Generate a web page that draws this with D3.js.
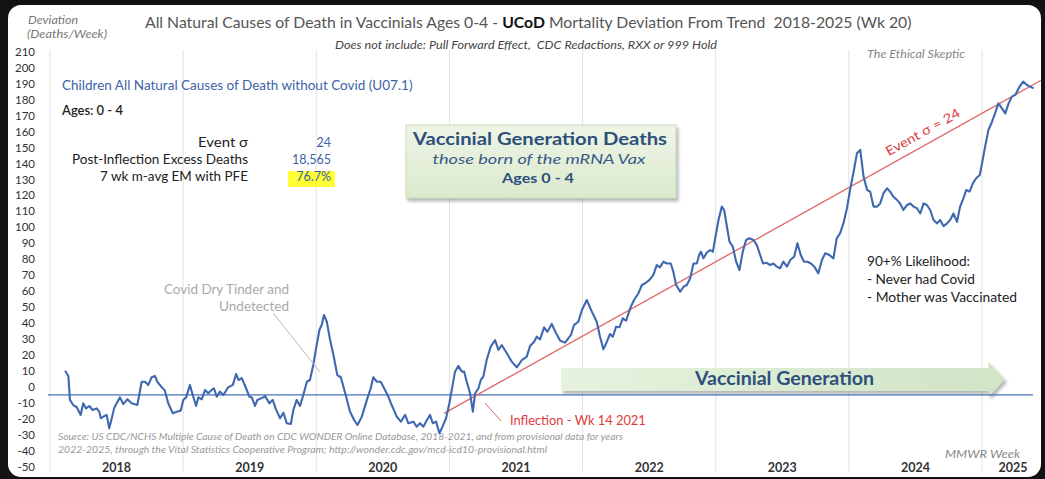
<!DOCTYPE html>
<html><head><meta charset="utf-8">
<script src="https://cdn.jsdelivr.net/npm/d3@7"></script>
<style>
html,body{margin:0;padding:0;background:#121212;}
svg{display:block;}
text{font-family:Lato,"Open Sans",sans-serif;}
</style></head>
<body>
<svg id="c" width="1045" height="479"></svg>
<script>
// ---- data (weeks since 2018 wk1, deviation deaths/week) ----
const weeks = [5.9,7.2,7.8,9.1,10.5,12.0,13.0,14.1,15.4,16.7,18.3,19.3,19.9,20.9,22.2,23.2,24.2,25.1,26.1,27.4,28.7,30.3,32.0,34.2,35.9,37.2,38.5,39.8,41.1,42.0,43.8,45.0,46.3,48.1,49.6,51.2,52.2,53.3,54.8,55.9,57.2,58.1,59.4,60.7,62.0,63.3,64.2,65.3,66.6,67.9,69.8,71.6,72.9,73.8,75.1,76.4,78.1,79.0,80.3,81.2,83.5,
84.2,85.9,87.2,88.5,90.1,91.4,92.7,94.3,95.3,96.6,97.9,99.2,100.6,101.8,103.1,104.2,105.5,106.4,107.3,108.4,109.7,111.0,112.5,113.9,115.9,117.5,119.1,120.4,122.1,124.1,125.6,126.6,128.0,129.5,131.2,132.5,133.8,135.8,137.4,139.1,140.3,142.3,143.6,144.9,146.2,147.6,148.8,149.9,151.2,152.5,153.8,155.1,156.4,157.7,158.6,159.9,161.3,162.2,163.2,164.5,165.6,166.5,167.8,168.7,169.7,171.0,172.6,174.3,175.6,176.9,178.9,180.8,182.8,184.8,186.7,188.0,189.6,190.6,191.9,193.5,194.8,196.5,198.2,199.8,201.7,204.0,205.2,206.9,208.3,210.2,212.2,214.1,215.4,216.7,218.1,219.3,220.4,221.7,223.0,224.3,225.6,227.2,228.7,230.4,231.8,233.1,234.7,236.3,237.6,238.9,240.2,241.6,243.1,244.1,245.2,246.8,248.1,249.4,250.7,252.0,253.3,254.2,254.9,255.9,257.2,258.5,259.6,260.5,261.8,263.1,264.0,265.1,266.1,267.4,268.7,270.0,271.3,272.6,273.9,275.5,276.8,278.1,279.2,280.7,282.0,283.3,284.6,285.9,287.2,288.6,289.9,291.4,292.7,294.0,295.3,296.6,298.0,299.3,300.9,302.3,303.6,305.2,306.8,308.1,309.4,310.7,312.1,313.3,314.6,316.0,317.3,318.6,320.0,321.2,322.5,323.9,325.1,326.4,327.8,329.0,330.3,331.7,332.9,334.2,335.6,336.9,338.2,339.5,340.8,342.1,343.4,344.7,346.0,347.4,348.6,349.9,351.3,352.5,353.8,355.2,356.4,357.7,358.8,360.1,361.4,362.7,364.1,365.0,366.2,367.5,368.9,370.1,371.4,372.8,374.1,375.4,376.7,378.0,379.7,381.1,382.6,383.9,385.2];
const deviation = [10.2,6.9,-8.1,-11.3,-12.7,-17.5,-10.2,-13.4,-11.9,-14.4,-13.4,-15.5,-19.6,-18.6,-17.5,-25.9,-19.6,-13.4,-10.2,-6.5,-10.7,-7.7,-10.2,-11.3,3.3,3.3,1.3,6.1,6.9,3.3,-0.2,-2.3,-10.2,-16.5,-15.5,-14.8,-8.1,-6.5,1.3,-5,-11.9,-6.5,-7.7,-1.9,-3.9,-1.9,-0.8,-6.1,-2.9,-5,-0.2,1.3,8.1,4.4,5.5,0.6,-6.1,-6.5,-11.9,-8.1,-6.5,
-5.6,-10.2,-8.1,-14,-19.6,-16.1,-22.7,-23.2,-14.4,-8.1,-11.9,-5,3.3,4.4,13.8,24.2,35.7,38.8,45.1,40.9,29.4,20,7.5,6.1,-5.6,-15.5,-20.7,-23.8,-18.6,-8.1,-0.8,6.1,3.3,3.3,-1.9,-6.1,-11.3,-18.6,-21.7,-17.5,-22.7,-21.7,-24.9,-22.7,-24.9,-20.7,-17.5,-22.7,-21.7,-29,-24.5,-19.6,-10.2,1.3,9.6,13.2,9.6,9.6,3.3,-3.9,-15.5,-3.9,-0.8,4.4,6.5,16.9,25.3,29.4,23.2,26.3,21.1,15.9,12.3,16.9,19,25.7,28.4,31.5,29.8,37.4,34.6,39.5,33.6,29,27.8,32.6,38.8,40.9,48.2,54.5,47.2,40.9,31.5,23.6,28.4,33.2,31.5,37.8,37.4,43,41.5,49.3,54.5,58.6,63.9,65,67,70.2,76.4,75,78.5,77.4,77.4,72.2,63.9,59.7,62.8,63.9,68.1,77.4,77.4,82.7,84.8,80.6,84.2,85.8,84.8,93.2,104.6,113,110.9,100.4,91,87.9,78.5,73.3,84.8,92.1,93.2,92.1,88.9,82.7,77.4,77.8,76.4,77.4,75.4,74.4,78.5,75.4,79.6,81.6,90,82.7,78.5,78.5,77.4,75.4,71.2,79.6,83.8,82.7,80.6,93.2,96.2,102.5,112,123.4,133.9,146.4,148.5,131.8,123.4,122.4,113,113,115,121.4,124.5,122.4,119.2,117.2,115,110.9,114,115,113,112,108.7,115,114,110.9,104.6,102.5,104.6,100.8,102.5,104.6,108.7,103.5,113,118.2,123.4,122.4,127.6,130.8,132.8,140.2,150.6,161,166.2,171.4,177.7,174.6,171.4,177.7,181.9,183,188.2,191.3,189.2,188.2,187.1];
const trendWeeks = [154.3, 388];
const trendValues = [-16.5, 192];
const baselineValue = -5;
const yearLabels = ["2018","2019","2020","2021","2022","2023","2024","2025"];
const yTicks = d3.range(-50, 211, 10);
const stats = [["Event σ","24"],["Post-Inflection Excess Deaths","18,565"],["7 wk m-avg EM with PFE","76.7%"]];
const likelihood = ["90+% Likelihood:","- Never had Covid","- Mother was Vaccinated"];

const WPY = 52.14;
const svg = d3.select("#c");
const x = d3.scaleLinear().domain([0, 7*WPY]).range([50, 982]);
const y = d3.scaleLinear().domain([-50, 210]).range([466.8, 51.8]);

// scale a text's font-size so its width matches w (capped; beyond the cap stretch glyphs)
function fit(sel, w, maxSize=99){
  const L = sel.node().getComputedTextLength();
  if (L <= 0) return sel;
  const s = (+sel.attr("font-size")) * w / L;
  if (s <= maxSize) sel.attr("font-size", s);
  else sel.attr("font-size", maxSize).attr("textLength", w).attr("lengthAdjust","spacingAndGlyphs");
  return sel;
}
function txt(xp, yp, size, s, opts={}){
  const t = svg.append("text").attr("x", xp).attr("y", yp).attr("font-size", size).text(s);
  Object.entries(opts).forEach(([k,v])=>t.attr(k,v));
  return t;
}

// panel
svg.append("rect").attr("x",8).attr("y",5).attr("width",1033).attr("height",472).attr("rx",13).attr("fill","#fff");

// gridlines at year boundaries
const bounds = d3.range(0, 8).map(i => i*WPY);
svg.append("g").selectAll("line").data(bounds).join("line")
  .attr("x1", d=>x(d)).attr("x2", d=>x(d)).attr("y1", 50).attr("y2", 471)
  .attr("stroke", "#e2e2e2").attr("stroke-width", 1);

// y axis labels
svg.append("g").selectAll("text").data(yTicks).join("text")
  .attr("x", 35).attr("y", d=>y(d)).attr("dy","0.35em").attr("text-anchor","end")
  .attr("font-size", 11.5).attr("fill","#333").text(d=>d);

// year labels
svg.append("g").selectAll("text").data(yearLabels).join("text")
  .attr("x", (d,i)=> i<7 ? x((i+0.5)*WPY) : 1013)
  .attr("y", 472).attr("text-anchor","middle").attr("font-size",12.5).attr("font-weight","bold")
  .attr("fill","#333").text(d=>d);

// defs
const defs = svg.append("defs");
const g1 = defs.append("linearGradient").attr("id","ag").attr("x1","0").attr("x2","1");
g1.append("stop").attr("offset","0").attr("stop-color","#e6f2de");
g1.append("stop").attr("offset","1").attr("stop-color","#d0e4c6");
const g2 = defs.append("linearGradient").attr("id","bg").attr("x1","0").attr("x2","0").attr("y1","0").attr("y2","1");
g2.append("stop").attr("offset","0").attr("stop-color","#eef5e6");
g2.append("stop").attr("offset","1").attr("stop-color","#dbe9cd");
const f = defs.append("filter").attr("id","sh").attr("x","-10%").attr("y","-10%").attr("width","130%").attr("height","140%");
f.append("feDropShadow").attr("dx",2).attr("dy",3).attr("stdDeviation",1.5).attr("flood-color","#888").attr("flood-opacity",0.6);

// Vaccinial Generation arrow
const ax0 = x(200.2), ax1 = x(374), ah = x(367.5);
svg.append("path")
  .attr("d", `M${ax0},368 L${ah},368 L${ah},362 L${ax1},379.5 L${ah},397 L${ah},391 L${ax0},391 Z`)
  .attr("fill","url(#ag)").attr("filter","url(#sh)");
fit(txt(695, 385, 19, "Vaccinial Generation", {"font-weight":"bold","fill":"#2d4f7c"}), 179, 19);

// baseline
svg.append("line").attr("x1", 48).attr("x2", 1033).attr("y1", y(baselineValue)).attr("y2", y(baselineValue))
  .attr("stroke","#4a6fb5").attr("stroke-width",1.3);

// trend line
svg.append("line")
  .attr("x1", x(trendWeeks[0])).attr("y1", y(trendValues[0]))
  .attr("x2", x(trendWeeks[1])).attr("y2", y(trendValues[1]))
  .attr("stroke","#e06666").attr("stroke-width",1.3);

// data line
const pts = weeks.map((w,i)=>[w, deviation[i]]);
svg.append("path").datum(pts)
  .attr("d", d3.line().x(d=>x(d[0])).y(d=>y(d[1])))
  .attr("fill","none").attr("stroke","#3f68b0").attr("stroke-width",2.1).attr("stroke-linejoin","round");

// event sigma label along trend
const ang = Math.atan2(y(trendValues[1])-y(trendValues[0]), x(trendWeeks[1])-x(trendWeeks[0]))*180/Math.PI;
const ev = svg.append("text").attr("transform", `translate(925,136) rotate(${ang})`).attr("text-anchor","middle")
  .attr("font-size", 12).attr("fill","#d94040").text("Event σ = 24");
fit(ev, 83, 13);

// titles
const t = svg.append("text").attr("x", 145).attr("y", 28).attr("font-size", 15.5).attr("fill","#555").style("white-space","pre");
t.append("tspan").text("All Natural Causes of Death in Vaccinials Ages 0-4 - ");
t.append("tspan").attr("font-weight","bold").attr("fill","#111").text("UCoD");
t.append("tspan").text(" Mortality Deviation From Trend  2018-2025 (Wk 20)");
fit(t, 767, 16);
fit(txt(335, 49, 10.5, "Does not include: Pull Forward Effect,  CDC Redactions, RXX or 999 Hold", {"font-style":"italic","fill":"#444"}).style("white-space","pre"), 382, 12);
fit(txt(28, 24, 11, "Deviation", {"font-style":"italic","fill":"#777"}), 50, 12);
fit(txt(27, 38, 11, "(Deaths/Week)", {"font-style":"italic","fill":"#777"}), 80, 12);
fit(txt(867, 58, 11, "The Ethical Skeptic", {"font-style":"italic","font-family":"'DejaVu Serif',serif","fill":"#888"}), 98, 12);

fit(txt(62, 90, 12.5, "Children All Natural Causes of Death without Covid (U07.1)", {"fill":"#3d63a8"}), 351, 14);
fit(txt(62, 115, 12.5, "Ages: 0 - 4", {"fill":"#222","font-weight":"600"}), 61, 13.5);

// stats block
svg.append("rect").attr("x", 288).attr("y", 171).attr("width", 47).attr("height", 16).attr("fill","#ffff33");
const labelW = [50, 176, 148];
stats.forEach((s,i)=>{
  fit(txt(248, 147+i*17, 12, s[0], {"text-anchor":"end","fill":"#222"}), labelW[i], 13);
  txt(331, 147+i*17, 12.5, s[1], {"text-anchor":"end","fill":"#3d63a8"});
});

// green box
svg.append("rect").attr("x", 406).attr("y", 125).attr("width", 270).attr("height", 73)
  .attr("fill","url(#bg)").attr("stroke","#c9dbb8").attr("filter","url(#sh)");
fit(txt(540, 145, 16, "Vaccinial Generation Deaths", {"text-anchor":"middle","font-weight":"bold","fill":"#2d4f7c"}), 254, 16.5);
fit(txt(539, 164, 14, "those born of the mRNA Vax", {"text-anchor":"middle","font-style":"italic","fill":"#3a5a8a"}), 213, 14);
fit(txt(538, 183, 14, "Ages 0 - 4", {"text-anchor":"middle","font-weight":"bold","fill":"#2d4f7c"}), 72, 14);

// covid dry tinder
fit(txt(289, 294, 12, "Covid Dry Tinder and", {"text-anchor":"end","fill":"#a9a9a9"}), 125, 13);
fit(txt(289, 311, 12, "Undetected", {"text-anchor":"end","fill":"#a9a9a9"}), 70, 13);
svg.append("line").attr("x1",273).attr("y1",313).attr("x2",320).attr("y2",372).attr("stroke","#bbb").attr("stroke-width",1);

// likelihood
const likeW = [103, 108, 150];
likelihood.forEach((s,i)=>{
  fit(txt(867, 266+i*18, 12, s, {"fill":"#222"}), likeW[i], 13);
});

// inflection
svg.append("line").attr("x1",485).attr("y1",403).attr("x2",501).attr("y2",421).attr("stroke","#e06666").attr("stroke-width",1);
fit(txt(510, 425, 12.5, "Inflection - Wk 14 2021", {"fill":"#e03a3a"}), 136, 13.5);

// source
fit(txt(58, 440, 9.3, "Source: US CDC/NCHS Multiple Cause of Death on CDC WONDER Online Database, 2018-2021, and from provisional data for years", {"font-style":"italic","fill":"#999"}), 565, 10);
fit(txt(58, 453, 9.3, "2022-2025, through the Vital Statistics Cooperative Program; http://wonder.cdc.gov/mcd-icd10-provisional.html", {"font-style":"italic","fill":"#999"}), 489, 10);
fit(txt(945, 458, 10.5, "MMWR Week", {"font-style":"italic","fill":"#888"}), 75, 11.5);
</script>
</body></html>
